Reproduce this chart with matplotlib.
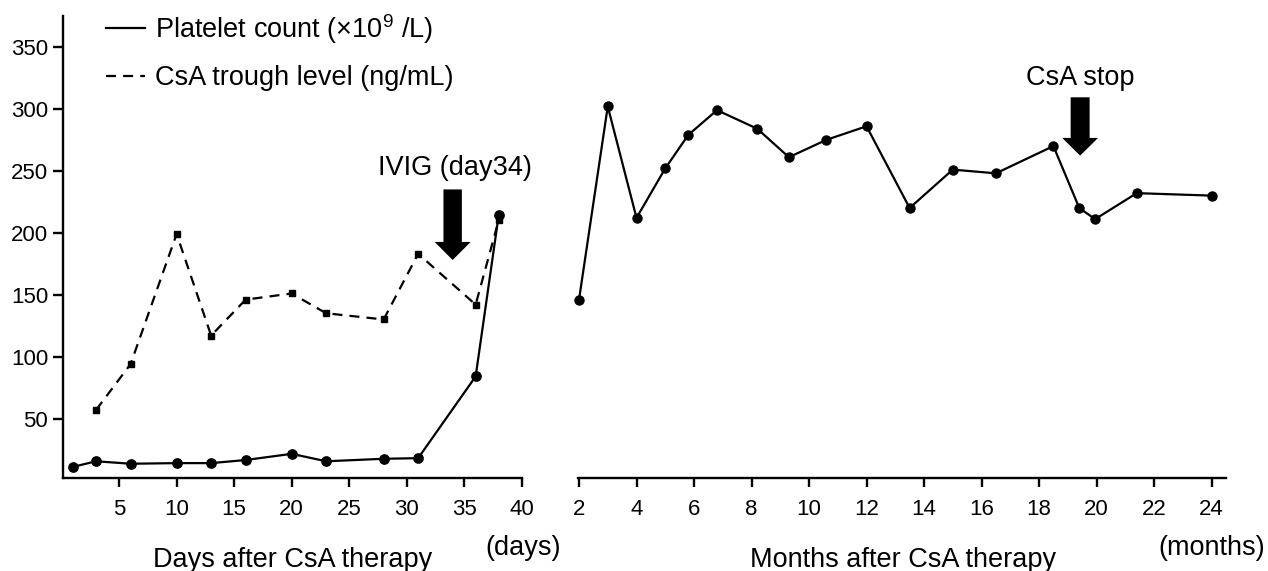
import matplotlib
matplotlib.use('Agg')
import matplotlib.pyplot as plt
from matplotlib.lines import Line2D

plt.rcParams['font.family'] = ['Liberation Sans', 'DejaVu Sans']
plt.rcParams['mathtext.fontset'] = 'custom'
plt.rcParams['mathtext.rm'] = 'Liberation Sans'
plt.rcParams['mathtext.it'] = 'Liberation Sans:italic'

# ---- data ----
platelet_days = [1, 3, 6, 10, 13, 16, 20, 23, 28, 31, 36, 38]
platelet_day_values = [11, 15.5, 13.5, 14, 14, 16.5, 21.5, 15.5, 17.5, 18, 84, 214]
csa_days = [3, 6, 10, 13, 16, 20, 23, 28, 31, 36, 38]
csa_trough = [57, 94, 199, 117, 146, 151, 135, 130, 183, 142, 210]
platelet_months = [2, 3, 4, 5, 5.8, 6.8, 8.2, 9.3, 10.6, 12, 13.5, 15, 16.5, 18.5,
                   19.4, 19.95, 21.4, 24]
platelet_month_values = [146, 302, 212, 252, 279, 299, 284, 261, 275, 286, 220, 251,
                         248, 270, 220, 211, 232, 230]
y_ticks = [50, 100, 150, 200, 250, 300, 350]
day_ticks = [5, 10, 15, 20, 25, 30, 35, 40]
month_ticks = [2, 4, 6, 8, 10, 12, 14, 16, 18, 20, 22, 24]
ivig_day = 34
csa_stop_month = 19.43

W, H = 1268, 571
fig = plt.figure(figsize=(W / 100, H / 100), dpi=100)
ax1 = fig.add_axes([0.0495, 0.1629, 0.3619, 0.809])
ax2 = fig.add_axes([0.4555, 0.1629, 0.5113, 0.809])

tick_fs = 16
lab_fs = 19.5
spine_lw = 1.7
line_lw = 1.6

for ax in (ax1, ax2):
    ax.set_ylim(2, 375)
    for s in ('top', 'right'):
        ax.spines[s].set_visible(False)
    for s in ('left', 'bottom'):
        ax.spines[s].set_linewidth(spine_lw)
    ax.tick_params(axis='x', direction='out', length=6.5, width=spine_lw,
                   labelsize=tick_fs, pad=8.5)
    ax.tick_params(axis='y', direction='out', length=7.5, width=spine_lw,
                   labelsize=tick_fs, pad=3)

# left panel
ax1.set_xlim(0.1, 40)
ax1.set_xticks(day_ticks)
ax1.set_yticks(y_ticks)
ax1.plot(csa_days, csa_trough, color='black', lw=line_lw, linestyle=(0, (4.5, 3.2)),
         marker='s', markersize=5, clip_on=False)
ax1.plot(platelet_days, platelet_day_values, color='black', lw=line_lw,
         marker='o', markersize=6.7, clip_on=False)
ax1.arrow(ivig_day, 235, 0, -57, width=1.6, head_width=3.13, head_length=14.6,
          length_includes_head=True, fc='black', ec='black', lw=0)
ax1.text(ivig_day + 0.2, 247, 'IVIG (day34)', ha='center', va='baseline', fontsize=lab_fs)

# right panel
ax2.set_xlim(1.95, 24.5)
ax2.set_xticks(month_ticks)
ax2.spines['left'].set_visible(False)
ax2.set_yticks([])
ax2.plot(platelet_months, platelet_month_values, color='black', lw=line_lw,
         marker='o', markersize=6.5, clip_on=False)
ax2.arrow(csa_stop_month, 309.4, 0, -47.1, width=0.66, head_width=1.25, head_length=14.3,
          length_includes_head=True, fc='black', ec='black', lw=0)
ax2.text(csa_stop_month, 319.3, 'CsA stop', ha='center', va='baseline', fontsize=lab_fs)

# legend
handles = [Line2D([], [], color='black', lw=line_lw),
           Line2D([], [], color='black', lw=line_lw, linestyle=(0, (4.5, 3.2)))]
labels = ['Platelet count (\u00d710$^{9}$ /L)', 'CsA trough level (ng/mL)']
fig.legend(handles, labels, loc='upper left', bbox_to_anchor=(106 / W, 1 - 12 / H),
           frameon=False, fontsize=lab_fs, handlelength=1.44, handletextpad=0.37,
           labelspacing=0.72, borderpad=0, borderaxespad=0)

# axis labels
fig.text(292.8 / W, (H - 566.7) / H, 'Days after CsA therapy', ha='center',
         va='baseline', fontsize=lab_fs)
fig.text(523.5 / W, (H - 555) / H, '(days)', ha='center', va='baseline', fontsize=lab_fs)
fig.text(903.2 / W, (H - 566.7) / H, 'Months after CsA therapy', ha='center',
         va='baseline', fontsize=lab_fs)
fig.text(1212 / W, (H - 555) / H, '(months)', ha='center', va='baseline', fontsize=lab_fs)

fig.savefig('out.png', dpi=100)
